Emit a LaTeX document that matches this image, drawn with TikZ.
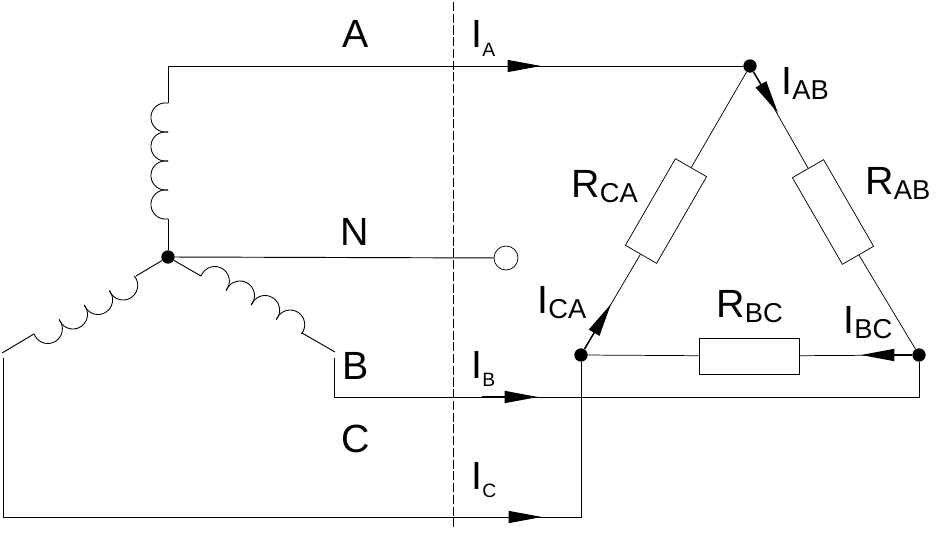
\documentclass[tikz,border=0pt]{standalone}
\usepackage{fontspec}
\setmainfont{Liberation Sans}
\usetikzlibrary{arrows.meta, positioning}
\def\coilrad{14.6}
\newcommand{\bigsub}[2]{#1\raisebox{-3.75pt}{\fontsize{20.5}{20.5}\selectfont #2}}
\newcommand{\smallsub}[2]{#1\raisebox{-6.5pt}{\fontsize{14.5}{15}\selectfont #2}}

\begin{document}
\begin{tikzpicture}[x=0.75pt,y=-0.75pt,line width=0.7pt]
    \tikzstyle{dot}=[circle,fill=black,minimum size=10pt,inner sep=0pt]
    \tikzstyle{terminal}=[circle,draw=black,fill=white,minimum size=18pt,inner sep=0pt,line width=0.55pt]
    \tikzstyle{resistor}=[rectangle,draw=black,minimum width=75pt,minimum height=27pt,inner sep=0pt,line width=0.55pt]
    \tikzstyle{lab}=[anchor=base west,inner sep=0pt,font=\fontsize{29.5}{30}\selectfont]
    \tikzstyle{phase}=[anchor=base,inner sep=0pt,font=\fontsize{29.5}{30}\selectfont]
    \tikzstyle{current}=[-{Triangle[length=25pt,width=9pt]},line width=1.1pt]
    \tikzstyle{branch}=[line width=0.55pt]
    \tikzset{coil/.pic={
        \foreach \i in {0,...,3}
            \draw[line width=0.65pt] (14.5+29*\i,2.5) ++(190:\coilrad) arc[start angle=190,end angle=-10,radius=\coilrad];
    }}

    \useasboundingbox (0,0) rectangle (937,534);

    % Draw the junctions and the open terminal
    \node[dot] (star) at (168,257) {};
    \node[dot] (dotA) at (750,66) {};
    \node[dot] (dotB) at (919,355) {};
    \node[dot] (dotC) at (581,355) {};
    \node[terminal] (term) at (506,258) {};

    % Draw the resistors of the triangle
    \node[resistor,rotate=-60] (RAB) at (833,212) {};
    \node[resistor,rotate=60] (RCA) at (666,211) {};
    \node[resistor] (RBC) at (749,356) {};

    % Ends of the coils and corners of the wires
    \foreach \name / \x / \y in {coilAin/168/103, coilAout/168/219, coilBin/201/276, coilBout/302/333,
        coilCin/136/276, coilCout/34/334, lugB/335/352, lugBw/334/358, lugC/2/353, lugCw/3/358,
        cornerB/334/397, cornerC/3/517, cutT/453.5/2, cutB/453.5/527}
        \coordinate (\name) at (\x,\y);

    % Draw the three coils
    \pic[rotate=-90] at (coilAin) {coil};
    \pic[rotate=-30,yscale=-1] at (coilBin) {coil};
    \pic[rotate=30] at (coilCout) {coil};

    % Connect the coils with the star point
    \draw (star) -- (coilAout);
    \draw (star) -- (coilBin);
    \draw (star) -- (coilCin);
    \draw (coilBout) -- (lugB);
    \draw (coilCout) -- (lugC);

    % Connect the lines with the triangle
    \draw (coilAin) |- (dotA);
    \draw (star) -- (term);
    \draw (lugBw) -- (cornerB) -| (dotB);
    \draw (lugCw) -- (cornerC) -| (dotC);

    % Sides of the triangle
    \draw[branch] (dotA) -- (RAB);
    \draw[branch] (RAB) -- (dotB);
    \draw[branch] (dotA) -- (RCA);
    \draw[branch] (RCA) -- (dotC);
    \draw[branch] (dotC) -- (RBC);
    \draw[branch] (RBC) -- (dotB);

    % Current arrows
    \coordinate (startA) at (507,66);
    \coordinate (tipA) at (541,66);
    \coordinate (startB) at (482,397);
    \coordinate (tipB) at (538,397);
    \coordinate (startC) at (508,517);
    \coordinate (tipC) at (542,517);
    \coordinate (tipAB) at (778,113);
    \coordinate (tipCA) at (611,304);
    \coordinate (tipBC) at (861,355);
    \draw[current,line width=0.7pt] (startA) -- (tipA);
    \draw[current] (startB) -- (tipB);
    \draw[current,line width=0.7pt] (startC) -- (tipC);
    \draw[current] (dotA) -- (tipAB);
    \draw[current] (dotC) -- (tipCA);
    \draw[current] (dotB) -- (tipBC);

    % Dashed cut through the lines
    \draw[dash pattern=on 6.8pt off 2pt,line width=0.6pt] (cutT) -- (cutB);

    % Labels
    \node[phase] (labA) at (356,48) {A};
    \node[phase] (labN) at (355,246) {N};
    \node[phase] (labB) at (356,379) {B};
    \node[phase] (labC) at (356,452) {C};
    \node[lab] (labIA) at (471,48) {\smallsub{I}{A}};
    \node[lab] (labIB) at (471,378) {\smallsub{I}{B}};
    \node[lab] (labIC) at (471,489) {\smallsub{I}{C}};
    \node[lab] (labIAB) at (781,95) {\bigsub{I}{AB}};
    \node[lab] (labICA) at (537,313) {\bigsub{I}{CA}};
    \node[lab] (labIBC) at (843,333) {\bigsub{I}{BC}};
    \node[lab] (labRAB) at (865,195) {\bigsub{R}{AB}};
    \node[lab] (labRCA) at (571,198) {\bigsub{R}{CA}};
    \node[lab] (labRBC) at (716,317) {\bigsub{R}{BC}};
\end{tikzpicture}
\end{document}
